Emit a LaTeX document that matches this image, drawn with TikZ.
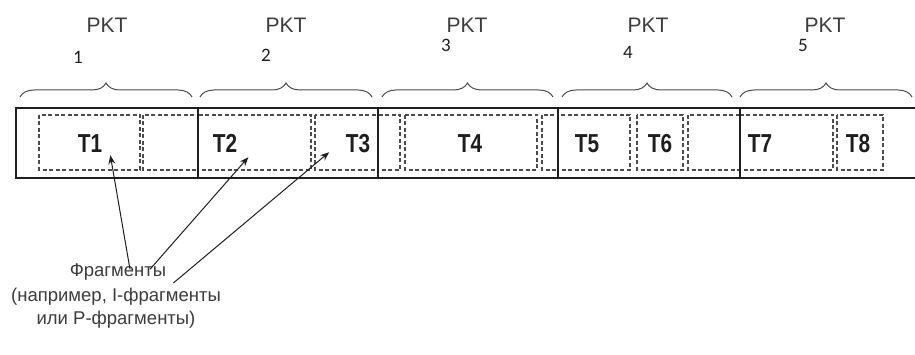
\documentclass[tikz,border=0pt]{standalone}
\usepackage{fontspec}
\setmainfont{Liberation Sans}
\newfontfamily\numfont{Carlito}
\newfontfamily\tfont[FakeStretch=0.8]{Liberation Sans}
\usetikzlibrary{arrows.meta,calc,decorations.pathreplacing}
\definecolor{ink}{RGB}{30,30,30}
\definecolor{pencil}{RGB}{75,75,75}
\definecolor{label}{RGB}{60,60,60}
\tikzset{
  >={Stealth[length=9pt,width=7pt]},
  frame/.style={draw=ink,line width=1.9pt},
  fragbox/.style={draw=pencil,dash pattern=on 4pt off 2.5pt,line width=1.1pt},
  pktlabel/.style={font=\fontsize{21}{23}\selectfont,text=label,inner sep=0pt},
  pktnum/.style={font=\numfont\fontsize{19}{21}\selectfont,text=ink,inner sep=0pt},
  tlabel/.style={font=\tfont\fontsize{26}{28}\selectfont\bfseries,text=ink,inner sep=0pt,
    text height=19pt,text depth=0pt},
  note/.style={font=\fontsize{18.5}{23}\selectfont,text=label,align=center,inner sep=0pt},
  brace/.style={draw=pencil,line width=1pt,decorate,decoration={brace,amplitude=14pt}},
  pointer/.style={->,draw=ink,line width=1pt},
}
\begin{document}
\begin{tikzpicture}[x=1pt,y=-1pt]
  \useasboundingbox (0,0) rectangle (915,355);
  % fragments (dashed)
  \foreach \a/\b in {39/140,143/198,198/311,315/378,378/400,405/537,542/558,
                     558/630,637/683,688/740,740/833,837/883}
    \draw[fragbox] (\a,115) rectangle (\b,170);
  % packet frame
  \draw[frame] (915,108) -- (16,108) -- (16,178) -- (915,178);
  \foreach \x in {198,378,558,740} \draw[frame] (\x,108) -- (\x,178);
  % braces and packet labels
  \foreach \i/\a/\b/\px/\nx/\ny in {1/20/192/107/78/57,2/200/372/286/266/55,3/382/553/467/446/45,
                                    4/562/732/648/628/52,5/740/912/825/803/45} {
    \draw[brace] (\a,97) -- (\b,97);
    \node[pktlabel] (pkt\i) at (\px,25) {PKT};
    \node[pktnum] (num\i) at (\nx,\ny) {\i};
  }
  % fragment labels
  \foreach \i/\x in {1/90,2/225,3/358,4/470,5/587,6/660,7/760,8/858}
    \node[tlabel] (t\i) at (\x,143) {T\i};
  % legend
  \node[note,text height=13pt,text depth=4pt] (frag) at (118,272) {Фрагменты};
  \node[note] (fragex) at (116,308.5) {(например, I-фрагменты\\или P-фрагменты)};
  \draw[pointer] ($(frag.north)+(12,6)$) -- ($(t1.south east)+(8,2.5)$);
  \draw[pointer] ($(frag.north)+(32,6)$) -- ($(t2.south east)+(11,4.5)$);
  \draw[pointer] ($(frag.east)+(7,11)$) -- ($(t3.south west)+(-16.5,-0.5)$);
\end{tikzpicture}
\end{document}
